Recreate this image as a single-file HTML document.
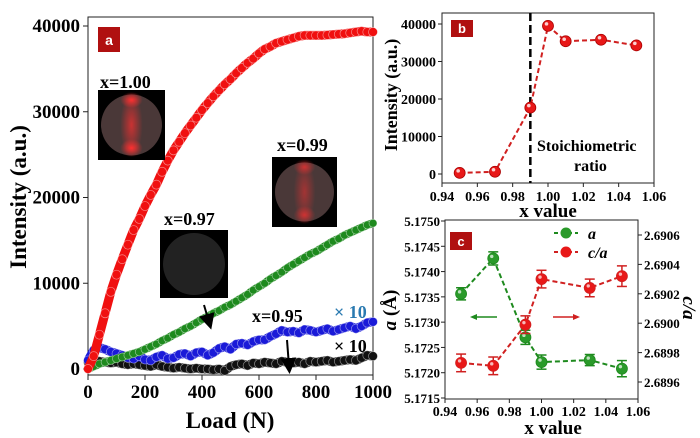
<!DOCTYPE html>
<html><head><meta charset="utf-8"><style>
body{margin:0;background:#fff}
svg{display:block}
svg text{font-family:"Liberation Serif","Times New Roman","DejaVu Serif",serif;font-weight:bold}
svg text.sans{font-family:"Liberation Sans","DejaVu Sans",sans-serif}
</style></head><body>
<svg id="svg" width="700" height="438" viewBox="0 0 700 438">
<defs>
<radialGradient id="gr" cx="50%" cy="50%" r="50%"><stop offset="0" stop-color="#ff3030"/><stop offset="1" stop-color="#ff3030" stop-opacity="0"/></radialGradient>
<marker id="ah" markerWidth="8" markerHeight="8" refX="4" refY="4" orient="auto"><path d="M0,0 L8,4 L0,8 Z" fill="#000"/></marker>
</defs>
<g id="ga"></g>
<g id="gbp"></g>
<g id="gc"></g>
</svg>
<script>
// Panel a data (load step 20 N, 0..1000)
const loads=[];for(let i=0;i<=50;i++)loads.push(i*20);
const redA=[0,1500,4000,6500,9000,11000,12800,14500,16200,17500,19000,20300,21500,23000,24300,25500,26500,27500,28400,29300,30200,31000,31800,32500,33200,33800,34500,35100,35700,36200,36800,37300,37600,38000,38200,38400,38600,38800,38900,38900,38900,38900,38950,39000,39050,39100,39200,39300,39400,39300,39300];
const greenA=[0,300,600,800,1000,1200,1400,1600,1800,2000,2300,2600,2900,3300,3600,4000,4300,4700,5000,5400,5800,6100,6500,6800,7200,7500,7900,8300,8700,9200,9600,10000,10500,10900,11300,11800,12200,12600,13000,13400,13700,14100,14500,14900,15200,15600,15900,16200,16500,16800,17000];
const blueA=[1000,2200,2500,2300,2000,1800,1600,1300,1200,1500,1100,1000,1400,1600,1200,1300,1700,1800,1500,1900,2000,1600,1900,2400,2600,2300,2900,3000,2800,3200,3400,3400,3800,4100,4500,4300,4400,4200,4600,4500,4300,4500,4700,4400,4600,4800,5000,4700,5000,5400,5500];
const blackA=[800,1000,900,800,700,800,600,500,600,500,400,300,500,300,200,100,200,100,0,100,0,0,-100,0,-200,300,500,600,400,700,600,800,700,600,900,800,700,800,600,900,800,900,1000,800,900,1000,1100,1000,1300,1600,1500];
const aTicks=[0,200,400,600,800,1000], aYTicks=[0,10000,20000,30000,40000];
// Panel b
const bX=[0.95,0.97,0.99,1.00,1.01,1.03,1.05];
const bY=[300,600,17700,39500,35400,35800,34300];
const bXTicks=[0.94,0.96,0.98,1.00,1.02,1.04,1.06], bYTicks=[0,10000,20000,30000,40000];
// Panel c
const cX=[0.95,0.97,0.99,1.00,1.03,1.05];
const cA=[5.17356,5.17426,5.17270,5.17221,5.17225,5.17208];
const cAerr=[0.00012,0.00013,0.00014,0.00014,0.00011,0.00016];
const cCA=[2.68973,2.68971,2.68999,2.69030,2.69024,2.69032];
const cCAerr=[0.00006,0.00006,0.00006,0.00006,0.00006,0.00007];
const cLTicks=[5.1715,5.1720,5.1725,5.1730,5.1735,5.1740,5.1745,5.1750];
const cRTicks=[2.6896,2.6898,2.6900,2.6902,2.6904,2.6906];

const NS="http://www.w3.org/2000/svg";
function mk(p,t,a,txt){const e=document.createElementNS(NS,t);
 for(const k in a)e.setAttribute(k,a[k]);if(txt!==undefined)e.textContent=txt;p.appendChild(e);return e;}
const lin=(d0,d1,r0,r1)=>v=>r0+(v-d0)/(d1-d0)*(r1-r0);

// ---------- Panel A ----------
const A=document.getElementById('ga');
const ax=lin(0,1000,88,373), ay=lin(0,40000,369,26);
let fr=mk(A,'rect',{x:88,y:17,width:285,height:358,fill:'none',stroke:'#222','stroke-width':1});

aTicks.forEach(t=>{mk(A,'line',{x1:ax(t),x2:ax(t),y1:375,y2:380,stroke:'#222'});
 const l=mk(A,'text',{x:ax(t),y:398,'text-anchor':'middle','font-size':19},t);
 });
aYTicks.forEach(t=>{mk(A,'line',{x1:83,x2:88,y1:ay(t),y2:ay(t),stroke:'#222'});
 const l=mk(A,'text',{x:80,y:ay(t)+6,'text-anchor':'end','font-size':19},t);
 });
let t1=mk(A,'text',{x:230,y:428,'text-anchor':'middle','font-size':23},'Load (N)');

let t2=mk(A,'text',{transform:'translate(26,197) rotate(-90)','text-anchor':'middle','font-size':23},'Intensity (a.u.)');

function series(g,vals,col,name,w){
 const s=mk(g,'g',{});
 mk(s,'polyline',{points:vals.map((v,i)=>ax(loads[i])+','+ay(v)).join(' '),fill:'none',stroke:col,'stroke-width':w,'stroke-linejoin':'round'});
 vals.forEach((v,i)=>{const c=mk(s,'circle',{cx:ax(loads[i]),cy:ay(v),r:w/2,fill:col,stroke:'#fff','stroke-width':0.7,'stroke-opacity':0.5});
  });
}
series(A,blackA,'#111','series-x095',9);
series(A,blueA,'#1a1ad8','series-x097',9);
series(A,greenA,'#1e8a1e','series-x099',8);
series(A,redA,'#f01010','series-x100',9);
let ba=mk(A,'rect',{x:98,y:27,width:22,height:25,fill:'#b01010'});
mk(A,'text',{x:109,y:45,'text-anchor':'middle','font-size':14,fill:'#fff','class':'sans'},'a');
function inset(x,y,w,h,lbl,lx,ly,red,name){
 const g=mk(A,'g',{});
 mk(g,'rect',{x:x,y:y,width:w,height:h,fill:'#000'});
 mk(g,'circle',{cx:x+w/2,cy:y+h/2,r:Math.min(w,h)/2-3,fill:red?'#4a3838':'#222'});
 if(red){mk(g,'ellipse',{cx:x+w/2,cy:y+h/2,rx:w/6,ry:h/2.2,fill:'url(#gr)',opacity:red*0.7});
  mk(g,'ellipse',{cx:x+w/2,cy:y+10,rx:w/6,ry:8,fill:'url(#gr)',opacity:red});mk(g,'ellipse',{cx:x+w/2,cy:y+h-12,rx:w/6,ry:9,fill:'url(#gr)',opacity:red});}
 mk(g,'text',{x:lx,y:ly,'font-size':18},lbl);
}
inset(98,90,67,70,'x=1.00',100,88,1,'inset-x100');
inset(272,157,65,70,'x=0.99',277,151,0.7,'inset-x099');
inset(160,230,68,68,'x=0.97',164,225,0,'inset-x097');
mk(A,'text',{x:252,y:322,'font-size':18},'x=0.95');
mk(A,'line',{x1:204,y1:305,x2:209,y2:322,stroke:'#000','stroke-width':2,'marker-end':'url(#ah)'});
mk(A,'line',{x1:287,y1:340,x2:289,y2:366,stroke:'#000','stroke-width':2,'marker-end':'url(#ah)'});
let x10b=mk(A,'text',{x:334,y:318,'font-size':18,fill:'#2a7ab0'},'× 10');
let x10k=mk(A,'text',{x:334,y:352,'font-size':18},'× 10');

// ---------- Panel B ----------
const B=document.getElementById('gbp');
const bx=lin(0.94,1.06,442,654), by=lin(0,40000,174,24);
let fb=mk(B,'rect',{x:442,y:13,width:212,height:170,fill:'none',stroke:'#222'});
bXTicks.forEach(t=>{mk(B,'line',{x1:bx(t),x2:bx(t),y1:183,y2:187,stroke:'#222'});
 const l=mk(B,'text',{x:bx(t),y:201,'text-anchor':'middle','font-size':14},t.toFixed(2));});
bYTicks.forEach(t=>{mk(B,'line',{x1:438,x2:442,y1:by(t),y2:by(t),stroke:'#222'});
 const l=mk(B,'text',{x:436,y:by(t)+5,'text-anchor':'end','font-size':14},t);});
let bt1=mk(B,'text',{x:548,y:217,'text-anchor':'middle','font-size':19},'x value');
let bt2=mk(B,'text',{transform:'translate(397,95) rotate(-90)','text-anchor':'middle','font-size':18},'Intensity (a.u.)');
let vl=mk(B,'line',{x1:bx(0.99),x2:bx(0.99),y1:13,y2:183,stroke:'#000','stroke-width':2.5,'stroke-dasharray':'8,4'});
mk(B,'polyline',{points:bX.map((v,i)=>bx(v)+','+by(bY[i])).join(' '),fill:'none',stroke:'#d02020','stroke-width':2,'stroke-dasharray':'5,3'});
bX.forEach((v,i)=>{const c=mk(B,'circle',{cx:bx(v),cy:by(bY[i]),r:5.5,fill:'#e81818',stroke:'#a00','stroke-width':0.8});
 mk(B,'circle',{cx:bx(v)-1.5,cy:by(bY[i])-2,r:1.8,fill:'#fff',opacity:0.8});});
let bb=mk(B,'rect',{x:451,y:20,width:22,height:17,fill:'#b01010'});
mk(B,'text',{x:462,y:33,'text-anchor':'middle','font-size':13,fill:'#fff','class':'sans'},'b');
let st=mk(B,'text',{x:537,y:151,'font-size':16},'Stoichiometric');
mk(B,'text',{x:574,y:171,'font-size':16},'ratio');

// ---------- Panel C ----------
const C=document.getElementById('gc');
const cx=lin(0.94,1.06,445,638), cyL=lin(5.1715,5.1750,398,221), cyR=lin(2.6896,2.6906,382,235);
let fc=mk(C,'rect',{x:445,y:220,width:193,height:179,fill:'none',stroke:'#222'});
bXTicks.forEach(t=>{mk(C,'line',{x1:cx(t),x2:cx(t),y1:399,y2:403,stroke:'#222'});
 const l=mk(C,'text',{x:cx(t),y:416,'text-anchor':'middle','font-size':14},t.toFixed(2));});
cLTicks.forEach(t=>{mk(C,'line',{x1:441,x2:445,y1:cyL(t),y2:cyL(t),stroke:'#222'});
 const l=mk(C,'text',{x:440,y:cyL(t)+5,'text-anchor':'end','font-size':13},t.toFixed(4));});
cRTicks.forEach(t=>{mk(C,'line',{x1:638,x2:642,y1:cyR(t),y2:cyR(t),stroke:'#222'});
 const l=mk(C,'text',{x:644,y:cyR(t)+5,'font-size':13},t.toFixed(4));});
let ct1=mk(C,'text',{x:553,y:434,'text-anchor':'middle','font-size':19},'x value');
let ct2=mk(C,'text',{transform:'translate(396,310) rotate(-90)','text-anchor':'middle','font-size':19},'');
mk(ct2,'tspan',{'font-style':'italic'},'a');mk(ct2,'tspan',{},' (Å)');
let ct3=mk(C,'text',{transform:'translate(683,308) rotate(90)','text-anchor':'middle','font-size':19,'font-style':'italic'},'c/a');
function cSeries(vals,errs,sy,col,fill,name){
 const g=mk(C,'g',{});
 mk(g,'polyline',{points:cX.map((v,i)=>cx(v)+','+sy(vals[i])).join(' '),fill:'none',stroke:col,'stroke-width':2,'stroke-dasharray':'5,3'});
 cX.forEach((v,i)=>{const X=cx(v),y1=sy(vals[i]+errs[i]),y2=sy(vals[i]-errs[i]);
  mk(g,'line',{x1:X,x2:X,y1:y1,y2:y2,stroke:col,'stroke-width':1.5});
  mk(g,'line',{x1:X-5,x2:X+5,y1:y1,y2:y1,stroke:col,'stroke-width':1.5});
  mk(g,'line',{x1:X-5,x2:X+5,y1:y2,y2:y2,stroke:col,'stroke-width':1.5});
  const c=mk(g,'circle',{cx:X,cy:sy(vals[i]),r:5.5,fill:fill,stroke:col,'stroke-width':0.8});
  mk(g,'circle',{cx:X-1.5,cy:sy(vals[i])-2,r:1.7,fill:'#fff',opacity:0.7});});
}
cSeries(cA,cAerr,cyL,'#1e8a1e','#2a9a2a','series-a');
cSeries(cCA,cCAerr,cyR,'#d02020','#e81818','series-c-over-a');
let bc=mk(C,'rect',{x:450,y:232,width:22,height:18,fill:'#b01010'});
mk(C,'text',{x:461,y:246,'text-anchor':'middle','font-size':13,fill:'#fff','class':'sans'},'c');
let lg1=mk(C,'g',{});
mk(lg1,'line',{x1:554,x2:578,y1:233,y2:233,stroke:'#1e8a1e','stroke-width':2,'stroke-dasharray':'4,3'});
mk(lg1,'circle',{cx:566,cy:233,r:5.5,fill:'#2a9a2a'});mk(lg1,'text',{x:588,y:239,'font-size':16,'font-style':'italic'},'a');
let lg2=mk(C,'g',{});
mk(lg2,'line',{x1:554,x2:578,y1:252,y2:252,stroke:'#d02020','stroke-width':2,'stroke-dasharray':'4,3'});
mk(lg2,'circle',{cx:566,cy:252,r:5.5,fill:'#e81818'});mk(lg2,'text',{x:588,y:258,'font-size':16,'font-style':'italic'},'c/a');
mk(C,'line',{x1:497,x2:473,y1:317,y2:317,stroke:'#1e8a1e','stroke-width':1.5});
mk(C,'path',{d:'M470,317 L477,314 L477,320 Z',fill:'#1e8a1e'});
mk(C,'line',{x1:553,x2:577,y1:317,y2:317,stroke:'#d02020','stroke-width':1.5});
mk(C,'path',{d:'M580,317 L573,314 L573,320 Z',fill:'#d02020'});
</script>
</body></html>
